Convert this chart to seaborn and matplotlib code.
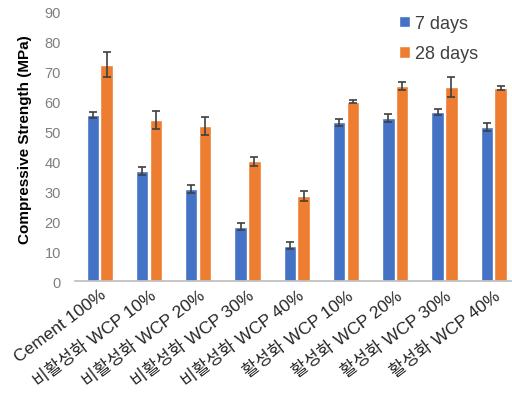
import matplotlib
matplotlib.use("Agg")
import matplotlib.pyplot as plt
import seaborn as sns
import pandas as pd
import numpy as np

categories = ["Cement 100%", "비활성화 WCP 10%", "비활성화 WCP 20%", "비활성화 WCP 30%",
              "비활성화 WCP 40%", "활성화 WCP 10%", "활성화 WCP 20%", "활성화 WCP 30%",
              "활성화 WCP 40%"]
days7 = [55.5, 36.8, 30.8, 18.2, 11.8, 53.1, 54.5, 56.7, 51.5]
days28 = [72.3, 54.0, 52.0, 40.0, 28.3, 60.0, 65.3, 65.0, 64.6]
err7 = [1.0, 1.2, 1.2, 1.3, 1.2, 1.2, 1.3, 1.0, 1.2]
err28 = [4.2, 3.0, 3.0, 1.5, 1.7, 0.5, 1.3, 3.3, 0.6]
series = ["7 days", "28 days"]
colors = ["#4472C4", "#ED7D31"]

sns.set_theme(style="white")
plt.rcParams['font.family'] = ['Liberation Sans', 'Noto Sans CJK KR', 'DejaVu Sans']

df = pd.DataFrame({
    "cat": categories * 2,
    "val": days7 + days28,
    "series": [series[0]] * len(categories) + [series[1]] * len(categories),
})

fig = plt.figure(figsize=(5.12, 4.14), dpi=100)
ax = fig.add_axes([75/512, 1 - 282/414, 1 - 75/512, (282 - 13)/414])
sns.barplot(data=df, x="cat", y="val", hue="series", palette=colors, ax=ax,
            width=0.56, gap=0.1, saturation=1, legend=True, errorbar=None)

for cont, errs in zip(ax.containers, [err7, err28]):
    xs = [p.get_x() + p.get_width() / 2 for p in cont]
    ys = [p.get_height() for p in cont]
    ax.errorbar(xs, ys, yerr=errs, fmt="none", ecolor="#404040", elinewidth=1.2,
                capsize=3, capthick=1.2)

ax.set_ylim(0, 90)
ax.set_xlim(-0.5, 8.37)
ax.set_yticks(range(0, 91, 10))
ax.tick_params(axis="y", colors="#7f7f7f", labelsize=10.5, length=0, pad=10)
ax.tick_params(axis="x", colors="#262626", labelsize=12.5, length=0, pad=4)
for lbl in ax.get_xticklabels():
    lbl.set_rotation(37)
    lbl.set_ha("right")
    lbl.set_rotation_mode("anchor")
ax.set_xlabel("")
ax.set_ylabel("Compressive Strength (MPa)", fontsize=11, fontweight="bold", color="black")
ax.yaxis.set_label_coords(-0.098, 0.53)
for s in ["top", "right", "left"]:
    ax.spines[s].set_visible(False)
ax.spines["bottom"].set_color("#bfbfbf")

leg = ax.legend(loc="upper right", bbox_to_anchor=(0.96, 1.05), frameon=False,
                fontsize=13, handlelength=0.6, handleheight=0.6, handletextpad=0.3,
                labelspacing=0.75)
for t in leg.get_texts():
    t.set_color("#404040")

fig.savefig("out.png", dpi=100)
